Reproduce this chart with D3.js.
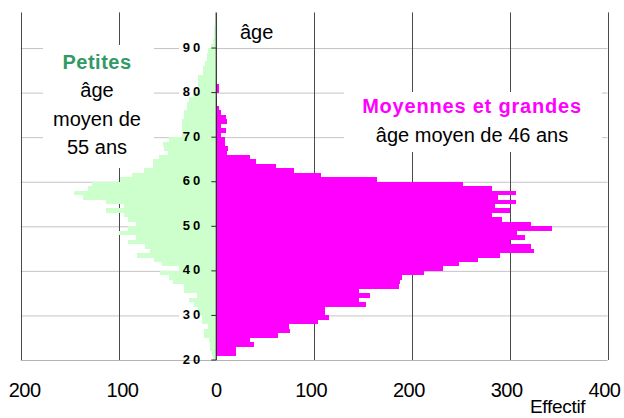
<!DOCTYPE html>
<html>
<head>
<meta charset="utf-8">
<script src="https://cdn.jsdelivr.net/npm/d3@7"></script>
<style>
  body { margin: 0; background: #fff; }
  text { font-family: "Liberation Sans", Arial, sans-serif; }
</style>
</head>
<body>
<div id="wrapper"></div>
<script>
// ages (one bar per age), left = petites, right = moyennes et grandes
const ages = [20,21,22,23,24,25,26,27,28,29,30,31,32,33,34,35,36,37,38,39,
  40,41,42,43,44,45,46,47,48,49,50,51,52,53,54,55,56,57,58,59,
  60,61,62,63,64,65,66,67,68,69,70,71,72,73,74,75,76,77,78,79,
  80,81,82,83,84,85,86,87,88,89,90,91,92,93,94,95,96,97]

const petites = [3,4,6.5,6.5,7,13,13,8,15,15,19,19,23,28,20,33,33,44,48,58,
  38,56,64,81,68,73,90,82,100,90,82,90,94,113,94,113,136,145,131,127,
  98,86,74,65,65,59,49,53,54,48,35,35,35,35,33,33,30,30,28,24,
  19,19,19,19,14,14,12,10,9,8,5.5,3,2,2,2,1,1,1]

const moyennes = [0,20,20,39,34,63,75,74,104,115,111,111,153,146,157,146,187,188,190,212,
  232,248,268,290,325,322,300,316,307,343,322,292,282,300,285,306,288,306,282,252,
  164,107,79,61,41,34,11,12,9,9,5,10,5,11,10,5,3,1,1,0,
  3,3,0,0,0,0,0,0,0,0,0,0,0,0,0,0,0,0]

const ageTicks = [20,30,40,50,60,70,80,90]
const xTicks = [-200,-100,0,100,200,300,400]

const width = 624, height = 418

const svg = d3.select("#wrapper")
  .append("svg")
  .attr("width", width)
  .attr("height", height)

const x = d3.scaleLinear().domain([-200, 400]).range([20.7, 607.5])
const y = d3.scaleLinear().domain([20, 98]).range([360, 12.4])

// horizontal gridlines
svg.selectAll("line.hgrid")
  .data(ageTicks)
  .enter()
  .append("line")
  .attr("x1", x(-200))
  .attr("x2", d => d == 20 ? x(400) : x(-38))
  .attr("y1", d => y(d) + 0.5)
  .attr("y2", d => y(d) + 0.5)
  .style("stroke", d => d == 20 ? "#b4b4b4" : "#c4c4c4")
svg.selectAll("line.hgrid2")
  .data(ageTicks.filter(d => d != 20))
  .enter()
  .append("line")
  .attr("x1", x(0))
  .attr("x2", x(400))
  .attr("y1", d => y(d) + 0.5)
  .attr("y2", d => y(d) + 0.5)
  .style("stroke", "#c4c4c4")

// vertical gridlines
svg.selectAll("line.vgrid")
  .data(xTicks.filter(d => d != 0))
  .enter()
  .append("line")
  .attr("x1", d => Math.round(x(d)) + 0.5)
  .attr("x2", d => Math.round(x(d)) + 0.5)
  .attr("y1", y(98))
  .attr("y2", y(20))
  .style("stroke", "#4a4a4a")

// white label boxes
svg.append("rect").attr("x", 43).attr("y", 45).attr("width", 111).attr("height", 123).style("fill", "#fff")
svg.append("rect").attr("x", 344).attr("y", 92).attr("width", 258).attr("height", 60).style("fill", "#fff")

// bars
svg.selectAll("rect.petites")
  .data(ages)
  .enter()
  .append("rect")
  .attr("x", (d, i) => x(-petites[i]))
  .attr("width", (d, i) => x(0) - x(-petites[i]))
  .attr("y", d => y(d + 1))
  .attr("height", d => y(d) - y(d + 1))
  .style("fill", "#ccffcc")
  .style("shape-rendering", "crispEdges")

svg.selectAll("rect.moyennes")
  .data(ages)
  .enter()
  .append("rect")
  .attr("x", x(0))
  .attr("width", (d, i) => x(moyennes[i]) - x(0))
  .attr("y", d => y(d + 1))
  .attr("height", d => y(d) - y(d + 1))
  .style("fill", "#ff00ff")
  .style("shape-rendering", "crispEdges")

// age axis
svg.append("line")
  .attr("x1", x(0)).attr("x2", x(0))
  .attr("y1", y(98)).attr("y2", y(20))
  .style("stroke", "#2a2a2a")
  .style("stroke-width", 1.2)
svg.selectAll("line.tick")
  .data(ageTicks)
  .enter()
  .append("line")
  .attr("x1", x(0) - 5).attr("x2", x(0))
  .attr("y1", d => y(d)).attr("y2", d => y(d))
  .style("stroke", "#2a2a2a")
svg.selectAll("text.age")
  .data(ageTicks)
  .enter()
  .append("text")
  .attr("x", x(0) - 13)
  .attr("y", d => y(d) - 1)
  .attr("dominant-baseline", "central")
  .attr("text-anchor", "end")
  .style("font-size", "13px")
  .style("font-weight", "bold")
  .style("letter-spacing", "3px")
  .text(d => d)

// effectif axis labels
svg.selectAll("text.xval")
  .data(xTicks)
  .enter()
  .append("text")
  .attr("x", d => x(d) + (d < 0 ? 4 : d > 0 ? -3 : 0))
  .attr("y", 397)
  .attr("text-anchor", "middle")
  .style("font-size", "20px")
  .style("letter-spacing", "-0.5px")
  .text(d => Math.abs(d))

svg.append("text")
  .attr("x", 530).attr("y", 413)
  .style("font-size", "19px")
  .style("letter-spacing", "-0.3px")
  .text("Effectif")

svg.append("text")
  .attr("x", 240).attr("y", 38.5)
  .style("font-size", "20px")
  .text("âge")

// left annotation
svg.append("text")
  .attr("x", 97).attr("y", 69)
  .attr("text-anchor", "middle")
  .style("font-size", "20px")
  .style("font-weight", "bold")
  .style("letter-spacing", "0.5px")
  .style("fill", "#339966")
  .text("Petites")
const leftLines = ["âge", "moyen de", "55 ans"]
svg.selectAll("text.left")
  .data(leftLines)
  .enter()
  .append("text")
  .attr("x", 97)
  .attr("y", (d, i) => 97 + i * 28.5)
  .attr("text-anchor", "middle")
  .style("font-size", "20px")
  .text(d => d)

// right annotation
svg.append("text")
  .attr("x", 472).attr("y", 112.5)
  .attr("text-anchor", "middle")
  .style("font-size", "20px")
  .style("font-weight", "bold")
  .style("letter-spacing", "0.8px")
  .style("fill", "#ff00ff")
  .text("Moyennes et grandes")
svg.append("text")
  .attr("x", 472).attr("y", 141.5)
  .attr("text-anchor", "middle")
  .style("font-size", "20px")
  .text("âge moyen de 46 ans")
</script>
</body>
</html>
